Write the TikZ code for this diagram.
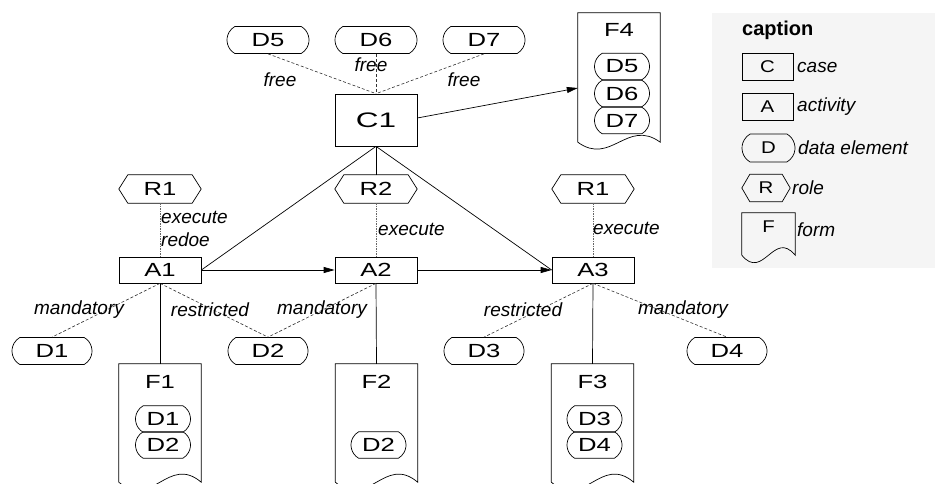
\documentclass[tikz,border=0pt]{standalone}
\usepackage{fontspec}
\setmainfont{Liberation Sans}
\newfontfamily\wideface{Liberation Sans}[FakeStretch=1.35]
\newfontfamily\widerface{Liberation Sans}[FakeStretch=1.5]
\newfontfamily\midface{Liberation Sans}[FakeStretch=1.2]
\usetikzlibrary{arrows.meta,shapes.misc,calc}
\tikzset{
  line/.style={draw=black,line width=0.7pt},
  dline/.style={draw=black!80,line width=0.6pt,dash pattern=on 3pt off 2pt},
  rline/.style={draw=black!60,line width=0.8pt,dash pattern=on 1.5pt off 1pt},
  arr/.style={line,-{Triangle[length=11pt,width=6pt]}},
  nfont/.style={font=\wideface\fontsize{19}{22}\selectfont},
  lfont/.style={font=\midface\fontsize{17}{20}\selectfont},
  lbl/.style={font=\fontsize{19}{23}\selectfont\itshape,inner sep=0pt},
  boxnode/.style={nfont,line,rectangle,inner sep=0pt,minimum width=82pt,minimum height=26pt},
  pill/.style={nfont,line,rounded rectangle,rounded rectangle arc length=120,inner sep=0pt,minimum width=82pt,minimum height=27pt},
  ipill/.style={pill,minimum width=55pt,minimum height=26.5pt},
  hexnode/.style={nfont,rectangle,inner sep=0pt,minimum width=82pt,minimum height=28pt},
  formnode/.style={rectangle,inner sep=0pt,minimum width=82pt},
  ftitle/.style={nfont,inner sep=0pt,anchor=center},
}
\newcommand\hexout[2][9]{\draw[line] (#2.west) -- ([xshift=#1pt]#2.north west) -- ([xshift=-#1pt]#2.north east) -- (#2.east) -- ([xshift=-#1pt]#2.south east) -- ([xshift=#1pt]#2.south west) -- cycle;}
\newcommand\formout[2][24]{\draw[line] (#2.south west) -- (#2.north west) -- (#2.north east) -- (#2.south east) .. controls ($(#2.south east)!0.4!(#2.south west)+(0,-#1)$) and ($(#2.south east)!0.6!(#2.south west)+(0,#1)$) .. (#2.south west);}
\begin{document}
\begin{tikzpicture}[x=1pt,y=-1pt]
\useasboundingbox (0,0) rectangle (935,484);
\clip (0,0) rectangle (935,484);
% legend background
\fill[black!4] (712,13) rectangle (935,268);
% top data elements
\node[pill] (D5) at (268,40) {D5};
\node[pill] (D6) at (376,40) {D6};
\node[pill] (D7) at (484,40) {D7};
\node[boxnode,minimum height=52pt,font=\widerface\fontsize{21}{24}\selectfont] (C1) at (376,120) {C1};
% form F4
\node[formnode,minimum height=129pt] (F4) at (619,77.5) {};
\formout{F4}
\node[ftitle] (F4t) at (619,30) {F4};
\node[ipill] (F4a) at (622,66.5) {D5};
\node[ipill] (F4b) at (622,93.5) {D6};
\node[ipill] (F4c) at (622,120.5) {D7};
% roles
\node[hexnode] (R1) at (160,189) {R1};
\hexout{R1}
\node[hexnode] (R2) at (376,189) {R2};
\hexout{R2}
\node[hexnode] (R3) at (593,189) {R1};
\hexout{R3}
% activities
\node[boxnode] (A1) at (160,270) {A1};
\node[boxnode] (A2) at (376,270) {A2};
\node[boxnode] (A3) at (593,270) {A3};
% data elements bottom
\node[pill,minimum width=80pt] (D1) at (52,351) {D1};
\node[pill,minimum width=80pt] (D2) at (268,351) {D2};
\node[pill,minimum width=80pt] (D3) at (484,351) {D3};
\node[pill,minimum width=80pt] (D4) at (727,351) {D4};
% forms bottom
\node[formnode,minimum height=118pt] (F1) at (160,423) {};
\formout[28]{F1}
\node[ftitle] (F1t) at (160,382) {F1};
\node[ipill] (F1a) at (163,419) {D1};
\node[ipill] (F1b) at (163,445) {D2};
\node[formnode,minimum height=118pt] (F2) at (376.5,423) {};
\formout[28]{F2}
\node[ftitle] (F2t) at (376.5,382) {F2};
\node[ipill] (F2a) at (378.5,445) {D2};
\node[formnode,minimum height=118pt] (F3) at (592.5,423) {};
\formout[28]{F3}
\node[ftitle] (F3t) at (592.5,382) {F3};
\node[ipill] (F3a) at (594.5,419) {D3};
\node[ipill] (F3b) at (594.5,445) {D4};
% connectors top
\draw[dline] (D5.south) -- (C1.north);
\draw[dline] (D6.south) -- (C1.north);
\draw[dline] (D7.south) -- (C1.north);
\node[lbl] (l1) at (280,80) {free};
\node[lbl] (l2) at (371,65) {free};
\node[lbl] (l3) at (464,80) {free};
\draw[arr] ([yshift=2pt]C1.east) -- ($(F4.west)+(0,10.5)$);
\draw[line] (C1.south) -- (A1.east);
\draw[line] (C1.south) -- (A3.west);
\draw[line] (C1.south) -- (R2.north);
\draw[rline] (R1.south) -- (A1.north);
\draw[rline] (R2.south) -- (A2.north);
\draw[rline] (R3.south) -- (A3.north);
\node[lbl,anchor=west,align=left] (l4) at (161,229) {execute\\redoe};
\node[lbl,anchor=west] (l5) at (378,229) {execute};
\node[lbl,anchor=west] (l6) at (593,228) {execute};
\draw[arr] (A1.east) -- (A2.west);
\draw[arr] (A2.east) -- (A3.west);
% connectors bottom
\draw[dline] (A1.south) -- (D1.north);
\draw[dline] (A1.south) -- (D2.north);
\draw[dline] (A2.south) -- (D2.north);
\draw[dline] (A3.south) -- (D3.north);
\draw[dline] (A3.south) -- (D4.north);
\draw[line] (A1.south) -- (F1.north);
\draw[line] (A2.south) -- (F2.north);
\draw[line] (A3.south) -- (F3.north);
\node[lbl] (l7) at (79,310) {mandatory};
\node[lbl] (l8) at (210,310) {restricted};
\node[lbl] (l9) at (322,310) {mandatory};
\node[lbl] (l10) at (523,310) {restricted};
\node[lbl] (l11) at (683,310) {mandatory};
% legend
\node[font=\fontsize{20}{24}\selectfont\bfseries,anchor=west,inner sep=0pt] (cap) at (742,30) {caption};
\node[boxnode,lfont,minimum width=51pt,minimum height=27pt] (LC) at (767.5,66.5) {C};
\node[lbl,anchor=west] (LCt) at (797,67) {case};
\node[boxnode,lfont,minimum width=51pt,minimum height=27pt] (LA) at (767.5,107) {A};
\node[lbl,anchor=west] (LAt) at (797,107) {activity};
\node[pill,lfont,minimum width=53pt,minimum height=28pt] (LD) at (768.5,148) {D};
\node[lbl,anchor=west] (LDt) at (798,148) {data element};
\node[hexnode,lfont,minimum width=48pt,minimum height=27pt] (LR) at (766,188) {R};
\hexout[8]{LR}
\node[lbl,anchor=west] (LRt) at (792,188) {role};
\node[formnode,minimum width=53pt,minimum height=42pt] (LF) at (768.5,234) {};
\formout[26]{LF}
\node[ftitle,lfont] (LFt) at (768.5,227) {F};
\node[lbl,anchor=west] (LFl) at (797,230) {form};
\end{tikzpicture}
\end{document}
